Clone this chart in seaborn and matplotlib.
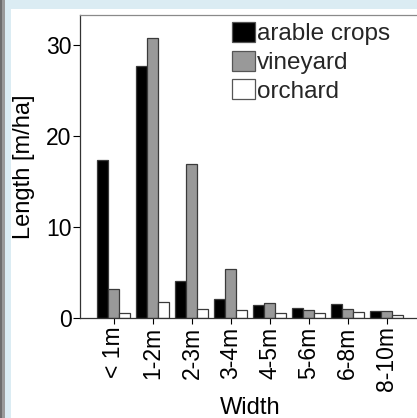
import matplotlib
matplotlib.use("Agg")
import matplotlib.pyplot as plt
import matplotlib.patches as mpatches
import pandas as pd
import seaborn as sns

# Length of field margins per width class
widths = ["< 1m", "1-2m", "2-3m", "3-4m", "4-5m", "5-6m", "6-8m", "8-10m"]
arable_crops = [17.4, 27.7, 4.0, 2.1, 1.4, 1.05, 1.5, 0.75]
vineyard = [3.2, 30.8, 16.9, 5.4, 1.6, 0.8, 0.95, 0.7]
orchard = [0.5, 1.7, 1.0, 0.8, 0.5, 0.5, 0.65, 0.35]
series_names = ["arable crops", "vineyard", "orchard"]
y_ticks = [0, 10, 20, 30]

df = pd.DataFrame({
    "Width": widths * 3,
    "Length": arable_crops + vineyard + orchard,
    "Land use": [n for n in series_names for _ in widths],
})

sns.set_theme(style="white")
plt.rcParams["font.family"] = ["Liberation Sans", "DejaVu Sans"]

W, H = 417, 418
fig = plt.figure(figsize=(W / 100, H / 100), dpi=100)
fig.patch.set_facecolor("#dbecf3")

# white panel and dark left border, kept beneath the axes
fig.patches.append(mpatches.Rectangle((11 / W, 0), 1, (H - 9) / H, transform=fig.transFigure,
                                      facecolor="white", edgecolor="none", zorder=-2))
fig.patches.append(mpatches.Rectangle((0, 0), 2 / W, 1, transform=fig.transFigure,
                                      facecolor="#6e6e6e", edgecolor="none", zorder=-2))
fig.patches.append(mpatches.Rectangle((2 / W, 0), 3 / W, 1, transform=fig.transFigure,
                                      facecolor="#9a9a9a", edgecolor="none", zorder=-2))

# axes frame: left at x=80px, zero line at y=318px, top at y=15px
ax_left, ax_right, ax_top, ax_bottom = 80, 420, 15, 317.7
ax = fig.add_axes([ax_left / W, (H - ax_bottom) / H,
                   (ax_right - ax_left) / W, (ax_bottom - ax_top) / H])
ax.set_facecolor("none")

palette = {"arable crops": "black", "vineyard": "#999999", "orchard": "white"}
sns.barplot(data=df, x="Width", y="Length", hue="Land use", order=widths,
            hue_order=series_names, palette=palette, width=0.85, gap=0,
            edgecolor="#3a3a3a", linewidth=0.9, saturation=1, ax=ax, legend=False)

ax.set_xlim(-0.87, 7.85)
ax.set_ylim(0, 33.3)
ax.set_yticks(y_ticks)
ax.set_yticklabels([str(t) for t in y_ticks])
ax.set_xticks(range(len(widths)))
ax.set_xticklabels(widths, rotation=90)

fs_tick, fs_label, fs_leg = 16.5, 17, 17.5
ax.tick_params(axis="y", which="both", left=True, length=5, width=0.8, pad=1,
               labelsize=fs_tick, colors="black")
ax.tick_params(axis="x", which="both", bottom=True, length=4.3, width=0.8, pad=2,
               labelsize=fs_tick, colors="black")
for s in ["left", "bottom"]:
    ax.spines[s].set_color("#333333")
    ax.spines[s].set_linewidth(0.9)
ax.spines["top"].set_color("#8a8a8a")
ax.spines["top"].set_linewidth(0.9)
ax.spines["right"].set_visible(False)

ax.set_xlabel("Width", fontsize=fs_label, color="black")
ax.set_ylabel("Length [m/ha]", fontsize=fs_label, color="black")
ax_w = ax_right - ax_left
ax_h = ax_bottom - ax_top
ax.xaxis.set_label_coords((250 - ax_left) / ax_w, -(414 - ax_bottom) / ax_h)
ax.xaxis.label.set_va("baseline")
ax.yaxis.set_label_coords((24 - ax_left) / ax_w, 0.5)
ax.yaxis.label.set_va("center")

handles = [mpatches.Patch(facecolor=palette[n], edgecolor="#555555", linewidth=0.9)
           for n in series_names]
fig.legend(handles, series_names, loc="upper left",
           bbox_to_anchor=(232 / W, (H - 22) / H), frameon=False, fontsize=fs_leg,
           handlelength=0.95, handleheight=0.88, handletextpad=0.08,
           labelspacing=0.22, borderpad=0, borderaxespad=0)

fig.savefig("out.png", dpi=100)
